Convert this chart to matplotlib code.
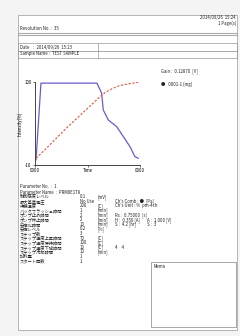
import matplotlib
matplotlib.use("Agg")
import matplotlib.pyplot as plt
from matplotlib.patches import Rectangle
from matplotlib.lines import Line2D

plt.rcParams['font.family'] = ['Noto Sans CJK JP', 'DejaVu Sans']

# chart data (time [min], intensity [%])
blue_t = [0.6, 3.4, 35.4, 38.1, 39.0, 41.9, 46.7, 50.5, 54.3, 57.1, 59.0]
blue_v = [-3, 98.5, 98.5, 85, 63, 49.6, 40.8, 27.5, 14.3, 1, -1]
red_t = [0.6, 6, 12, 18, 24, 30, 36, 40, 44, 48, 52, 56, 59]
red_v = [-1, 11, 25, 39, 52, 65, 78, 86, 91, 95, 97, 98.5, 99.5]

# parameter table
param_labels = ["制御感度レベル", "最大基準電圧", "待機温度", "バックフラッシュ時間",
                "ポンプ止め時間", "ポンプ休止時間", "安定化時間", "安定レベル",
                "ステップ数", "ステップ温度上昇時間", "ステップ温度保持時間",
                "ステップ温度下降時間", "ステップ冷却時間", "試料量", "スタート回数"]
param_values = ["0.1", "No Use", "200", "1", "2", "2", "10", "0.2",
                "3", "70", "100", "10", "10", "1", "1"]
param_units = ["[mV]", "", "[C]", "[min]", "[min]", "[min]", "[min]", "[%]",
               "", "[C]", "[C]", "[C]", "[min]", "", ""]
side_info = {1: "Ch's Comb : ●  [Pa]", 2: "Ch's Unit : %  pm-4ch",
             4: "Rs :  0.75000  [s]", 5: "H :  0.350 [A]       A :  1.000 [V]",
             6: "S :  4.2 [hr]           S :  3", 11: "4    4"}

W, H = 240, 336
fig = plt.figure(figsize=(W / 100, H / 100), dpi=100)
fig.patch.set_facecolor('#f4f4f4')


def P(x, y):
    return x / W, 1 - y / H


def txt(x, y, s, **kw):
    kw.setdefault('fontsize', 3.1)
    kw.setdefault('color', '#222222')
    fig.text(*P(x, y), s, va='center', **kw)


def hline(x0, x1, y, lw=0.5, color='#888888'):
    fig.add_artist(Line2D([x0 / W, x1 / W], [1 - y / H] * 2, lw=lw, color=color))


def box(x0, y0, x1, y1, lw=0.5, color='#999999', fc='none', z=1):
    fig.add_artist(Rectangle(P(x0, y1), (x1 - x0) / W, (y1 - y0) / H,
                             fill=fc != 'none', facecolor=fc, edgecolor=color,
                             lw=lw, zorder=z))


# page
box(18, 15, 237, 330, lw=0.6, color='#aaaaaa', fc='white', z=-5)

# header
txt(236, 18, "2014/09/26  15:24", ha='right')
txt(236, 23, "1 Page(s)", ha='right')
txt(20, 29, "Revolution No. :  35")
hline(18, 237, 32.5, lw=0.8, color='#aaaaaa')
hline(18, 237, 34.5, lw=0.8, color='#aaaaaa')

box(18, 43, 237, 58)
hline(18, 237, 50.5)
fig.add_artist(Line2D([98 / W] * 2, [1 - 43 / H, 1 - 58 / H], lw=0.5, color='#999999'))
txt(20, 47, "Date    :  2014/09/26  15:23")
txt(20, 54, "Sample Name :  TEST SAMPLE")

# chart
ax = fig.add_axes([35 / W, 1 - 165 / H, 105 / W, 83 / H])
ax.patch.set_alpha(0)
ax.plot(blue_t, blue_v, color='#6a5acd', lw=0.9)
ax.plot(red_t, red_v, color='#e8503a', lw=0.8, ls=(0, (2, 1.5)))
ax.set_xlim(0, 60)
ax.set_ylim(-10, 100)
ax.set_xticks([0, 30, 60])
ax.set_xticklabels(["0000", "Time", "0000"])
ax.set_yticks([-10, 100])
ax.set_yticklabels(["-10", "100"])
ax.set_ylabel("Intensity(%)", fontsize=3.1, labelpad=1)
ax.tick_params(labelsize=3.1, length=1.5, width=0.4, pad=1)
for s in ['top', 'right']:
    ax.spines[s].set_visible(False)
for s in ['left', 'bottom']:
    ax.spines[s].set_linewidth(0.7)
    ax.spines[s].set_color('#444444')

txt(161, 71, "Gain :  0.12870  [V]")
txt(161, 84, "●   0001-1 (mg)")

# parameters
txt(20, 187, "Parameter No.  :  1")
txt(20, 192, "Parameter Name  :  PRM0E1T8")
for i, lab in enumerate(param_labels):
    y = 196.7 + 4.6 * i
    txt(20, y, lab)
    txt(80, y, param_values[i])
    txt(97, y, param_units[i])
    if i in side_info:
        txt(115, y, side_info[i])

# memo box
box(151, 262, 236, 327, lw=0.6, color='#999999')
txt(154, 266, "Memo")

fig.savefig("out.png", dpi=100, facecolor=fig.get_facecolor())
